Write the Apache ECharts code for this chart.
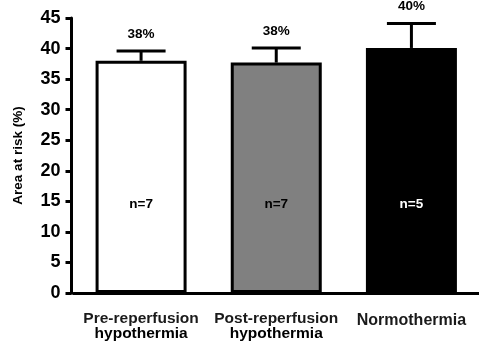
<!DOCTYPE html>
<html>
<head>
<meta charset="utf-8">
<script src="https://cdn.jsdelivr.net/npm/echarts@6/dist/echarts.min.js"></script>
<style>
  html, body { margin: 0; padding: 0; background: #fff; }
  #chart { width: 479px; height: 349px; }
</style>
</head>
<body>
<div id="chart"></div>
<script>
// Area at risk by treatment group (mean, upper SEM, group size)
const categories = ['Pre-reperfusion\nhypothermia', 'Post-reperfusion\nhypothermia', 'Normothermia'];
const areaAtRisk = [38.0, 37.7, 40.1];
const sem = [1.6, 2.4, 4.0];
const groupSizes = [7, 7, 5];
const barColors = ['#ffffff', '#808080', '#000000'];
const countLabelColors = ['#000000', '#000000', '#ffffff'];
const yMin = 0, yMax = 45, yStep = 5;

const FONT = '"Liberation Sans", Arial, Helvetica, sans-serif';

const chart = echarts.init(document.getElementById('chart'), null, { renderer: 'canvas' });

const barData = areaAtRisk.map((v, i) => ({
  value: v,
  itemStyle: { color: barColors[i] },
  label: { color: countLabelColors[i] }
}));

const errData = areaAtRisk.map((v, i) => [i, v, v + sem[i]]);

chart.setOption({
  animation: false,
  backgroundColor: '#ffffff',
  grid: { left: 73.5, right: -3, top: 18, bottom: 56, containLabel: false },
  xAxis: {
    type: 'category',
    data: categories,
    axisLine: { show: true, lineStyle: { color: '#000', width: 3 } },
    axisTick: { show: false },
    axisLabel: {
      margin: 18,
      interval: 0,
      formatter: function (val) {
        const parts = val.split('\n');
        if (parts.length === 1) return '{c|' + parts[0] + '}';
        return '{a|' + parts[0] + '}\n{b|' + parts[1] + '}';
      },
      rich: {
        a: { fontFamily: FONT, fontWeight: 'bold', fontSize: 15.5, color: '#1a1a1a', lineHeight: 15 },
        b: { fontFamily: FONT, fontWeight: 'bold', fontSize: 15.5, color: '#000', lineHeight: 15 },
        c: { fontFamily: FONT, fontWeight: 'bold', fontSize: 16, color: '#1a1a1a', lineHeight: 20 }
      }
    }
  },
  yAxis: {
    type: 'value',
    min: yMin,
    max: yMax,
    interval: yStep,
    offset: 2,
    name: 'Area at risk (%)',
    nameLocation: 'middle',
    nameGap: 46,
    nameTextStyle: { fontFamily: FONT, fontWeight: 'bold', fontSize: 13.5, color: '#000' },
    axisLine: { show: true, lineStyle: { color: '#000', width: 3 } },
    axisTick: { show: true, length: 6, lineStyle: { color: '#000', width: 3 } },
    axisLabel: { margin: 11, fontFamily: FONT, fontWeight: 'bold', fontSize: 18, color: '#000' },
    splitLine: { show: false }
  },
  series: [
    {
      type: 'bar',
      data: barData,
      barWidth: 91,
      itemStyle: { borderColor: '#000', borderWidth: 3 },
      label: {
        show: true,
        position: 'insideBottom',
        distance: 82,
        fontFamily: FONT,
        fontWeight: 'bold',
        fontSize: 13.5,
        formatter: function (p) { return 'n=' + groupSizes[p.dataIndex]; }
      },
      z: 2
    },
    {
      type: 'custom',
      data: errData,
      z: 3,
      renderItem: function (params, api) {
        const x = api.value(0);
        const mean = api.coord([x, api.value(1)]);
        const top = api.coord([x, api.value(2)]);
        const capHalf = 24.5;
        const label = Math.round(api.value(1)) + '%';
        return {
          type: 'group',
          children: [
            {
              type: 'line',
              shape: { x1: mean[0], y1: mean[1], x2: top[0], y2: top[1] },
              style: { stroke: '#000', lineWidth: 3 }
            },
            {
              type: 'line',
              shape: { x1: top[0] - capHalf, y1: top[1], x2: top[0] + capHalf, y2: top[1] },
              style: { stroke: '#000', lineWidth: 3 }
            },
            {
              type: 'text',
              x: top[0],
              y: top[1] - 17,
              style: {
                text: label,
                align: 'center',
                verticalAlign: 'middle',
                fill: '#000',
                font: 'bold 13.5px ' + FONT
              }
            }
          ]
        };
      }
    }
  ]
});
</script>
</body>
</html>
